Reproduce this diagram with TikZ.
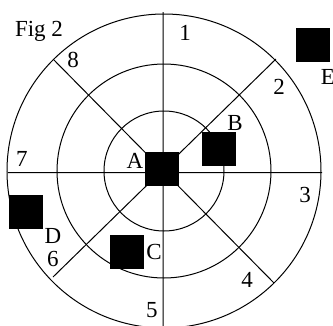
\documentclass[tikz,border=0pt]{standalone}
\usepackage{fontspec}
\setmainfont{Liberation Serif}
\usetikzlibrary{positioning}
\tikzset{blk/.style={fill=black,minimum size=34pt,inner sep=0pt},
  lbl/.style={font=\fontsize{23}{25}\selectfont,inner sep=0pt},
  ring/.style={line width=1pt}}

\begin{document}
\begin{tikzpicture}[x=1pt,y=-1pt]
\useasboundingbox (0,0) rectangle (333,325);
% rings
\coordinate (O) at (164,171);
\draw[ring] (O) circle[radius=157pt] (O) circle[radius=107pt] (O) circle[radius=60pt];
% spokes
\coordinate (N) at (163,12); \coordinate (S) at (163,326);
\coordinate (W) at (8,172.5); \coordinate (E0) at (322,172.5);
\coordinate (NW) at (53,59); \coordinate (SE) at (274,283);
\coordinate (NE) at (276,59); \coordinate (SW) at (53,277);
\draw[ring] (N)--(S) (W)--(E0) (NW)--(SE) (NE)--(SW);
% blocks
\node[blk] (A) at (162,169) {};
\node[blk] (B) at (219,149) {};
\node[blk] (C) at (127,252) {};
\node[blk] (D) at (26,212) {};
\node[blk] (E) at (313,45) {};
\node[lbl] (lA) at (135,161) {A};
\node[lbl] (lB) at (235,123) {B};
\node[lbl] (lC) at (154,252) {C};
\node[lbl] (lD) at (53,236) {D};
\node[lbl] (lE) at (328,77) {E};
% sectors
\node[lbl] (s1) at (185,33) {1};
\node[lbl] (s2) at (279,87) {2};
\node[lbl] (s3) at (305,195) {3};
\node[lbl] (s4) at (247,280) {4};
\node[lbl] (s5) at (152,310) {5};
\node[lbl] (s6) at (53,259) {6};
\node[lbl] (s7) at (22,159) {7};
\node[lbl] (s8) at (73,60) {8};
\node[lbl] (fig) at (39,31) {Fig 2};
\end{tikzpicture}
\end{document}
